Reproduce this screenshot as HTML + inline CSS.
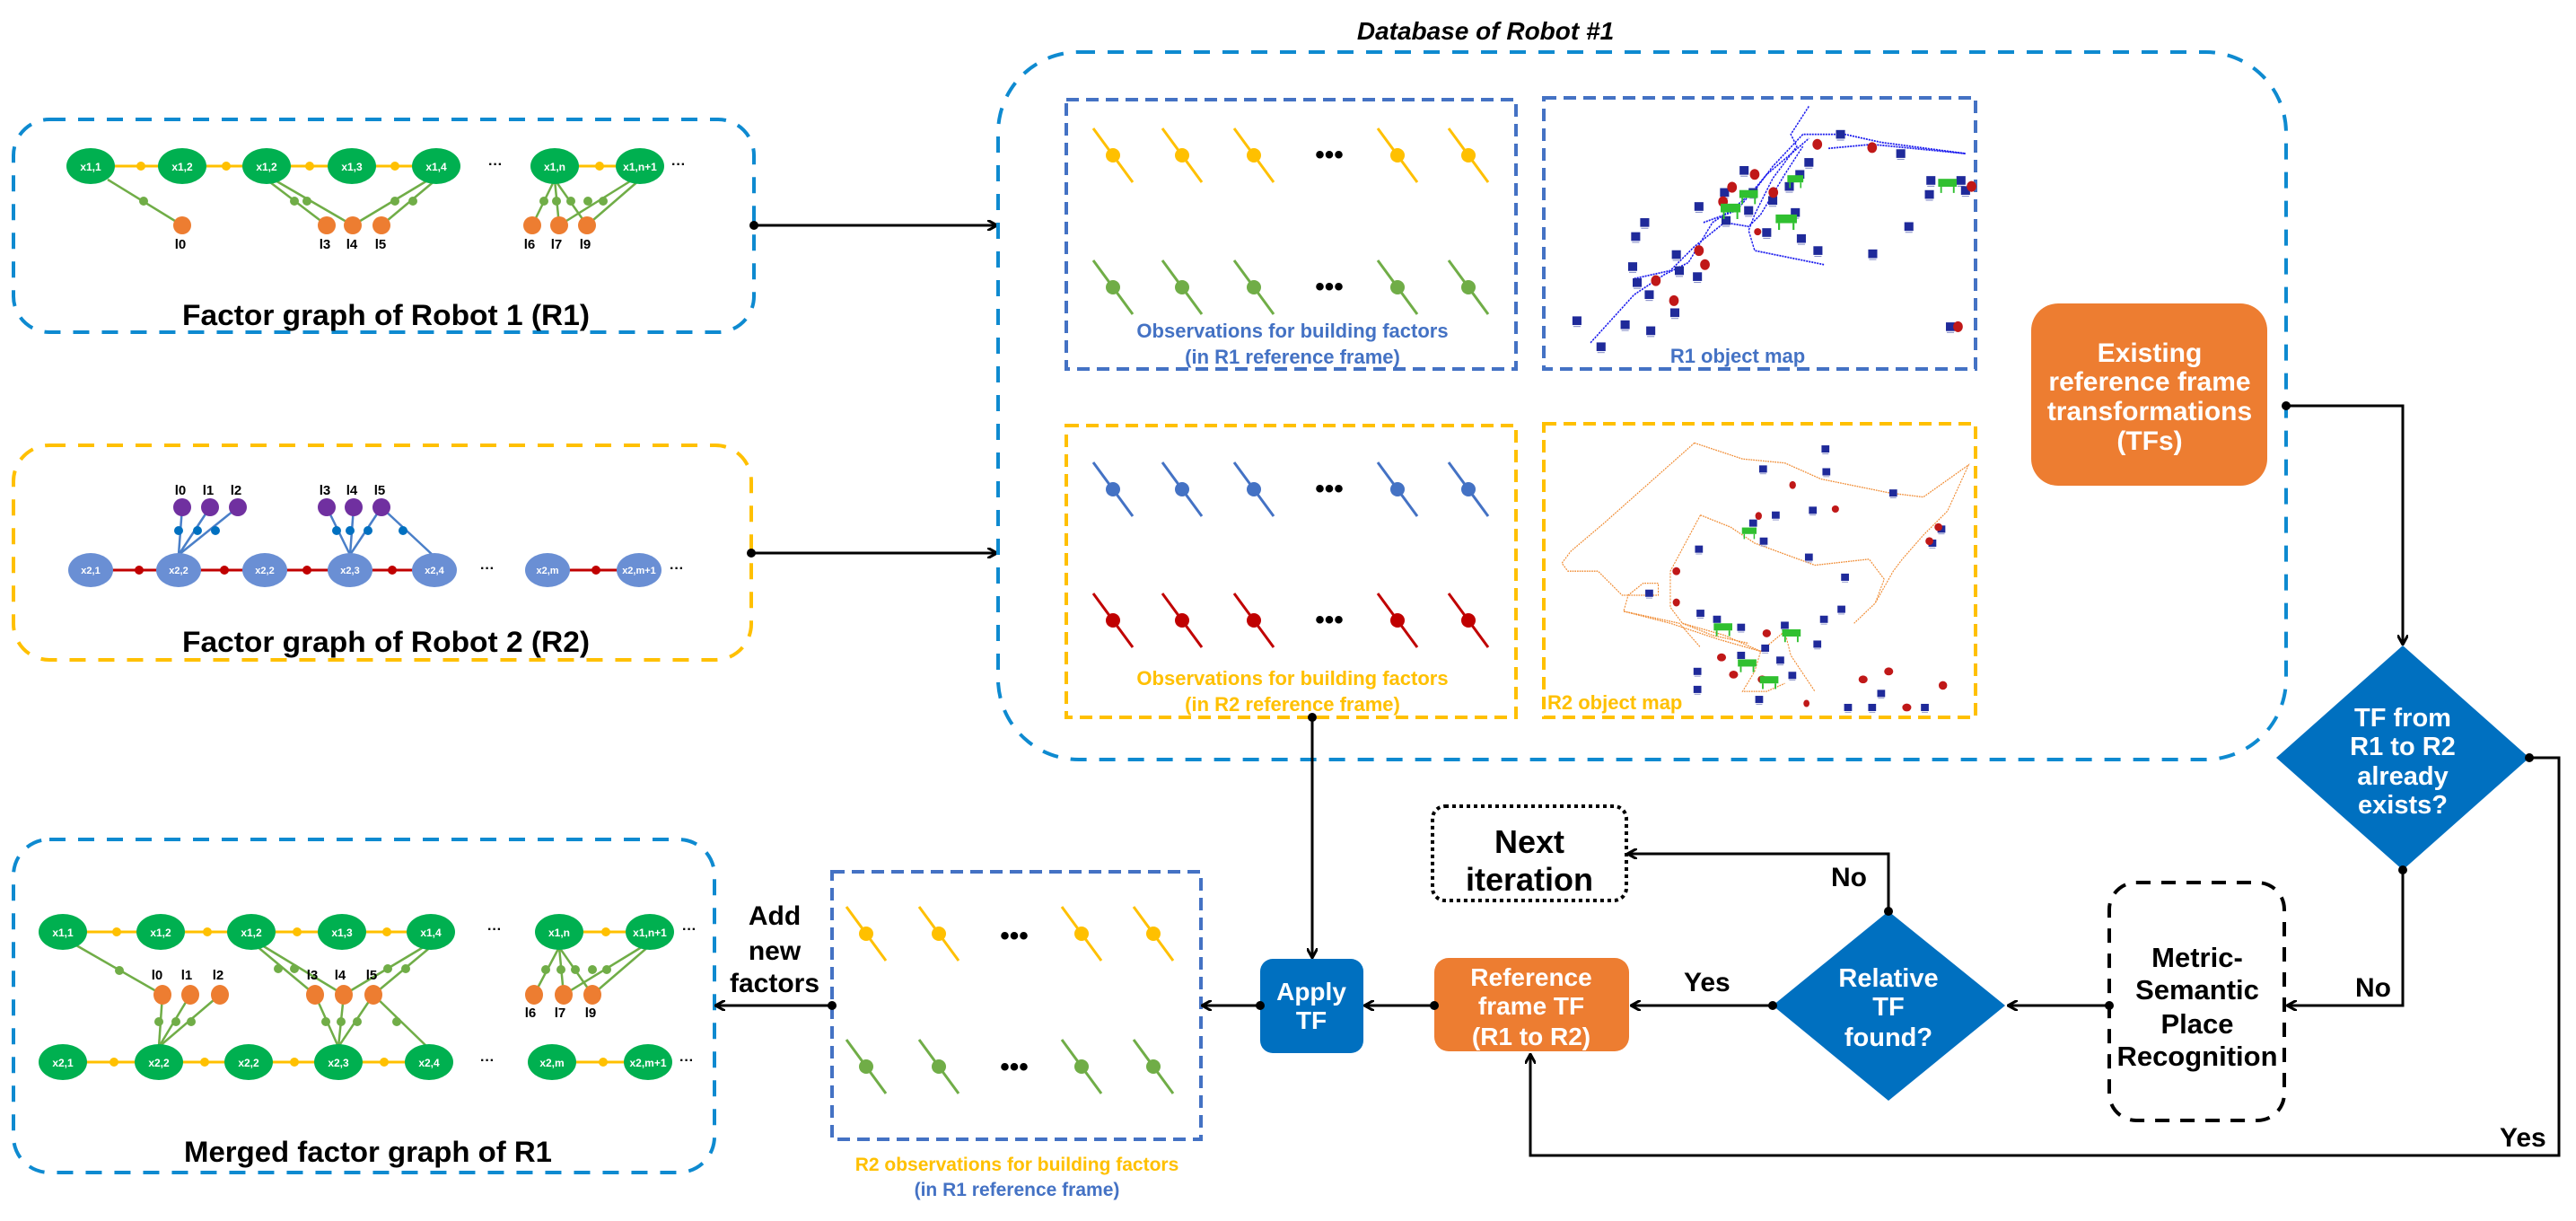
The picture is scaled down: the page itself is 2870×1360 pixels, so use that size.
<!DOCTYPE html>
<html><head><meta charset="utf-8"><style>
html,body{margin:0;padding:0;background:#fff}
svg{display:block}
text{font-family:"Liberation Sans Narrow","Liberation Sans",sans-serif;font-weight:bold}
</style></head><body>
<svg width="2870" height="1360" viewBox="0 0 2870 1360" xmlns="http://www.w3.org/2000/svg">
<defs>
<marker id="ah" markerWidth="12" markerHeight="12" refX="10" refY="6" orient="auto" markerUnits="userSpaceOnUse"><path d="M0,0 L11,6 L0,12" fill="none" stroke="#000" stroke-width="3"/></marker>
<g id="sy"><line x1="-22" y1="-30" x2="22" y2="30" stroke="#ffc000" stroke-width="3"/><circle r="8" fill="#ffc000"/></g>
<g id="sg"><line x1="-22" y1="-30" x2="22" y2="30" stroke="#70ad47" stroke-width="3"/><circle r="8" fill="#70ad47"/></g>
<g id="sb"><line x1="-22" y1="-30" x2="22" y2="30" stroke="#4472c4" stroke-width="3"/><circle r="8" fill="#4472c4"/></g>
<g id="sr"><line x1="-22" y1="-30" x2="22" y2="30" stroke="#c00000" stroke-width="3"/><circle r="8" fill="#c00000"/></g>
<g id="ch"><rect x="-10" y="-9" width="20" height="18" fill="#1f2a9a"/><line x1="-8" y1="12" x2="8" y2="12" stroke="#8890c8" stroke-width="2"/></g>
<g id="rd"><ellipse rx="10" ry="9" fill="#c01818"/></g>
<g id="tb"><rect x="-22" y="-10" width="44" height="18" fill="#30c030"/><line x1="-15" y1="8" x2="-15" y2="22" stroke="#30c030" stroke-width="4"/><line x1="15" y1="8" x2="15" y2="22" stroke="#30c030" stroke-width="4"/></g>
</defs>

<!-- ============ R1 factor graph box ============ -->
<rect x="15" y="133" width="825" height="237" rx="40" fill="none" stroke="#0e8ad0" stroke-width="4" stroke-dasharray="18 14"/>
<g stroke="#ffc000" stroke-width="3"><line x1="101" y1="185" x2="486" y2="185"/><line x1="618" y1="185" x2="713" y2="185"/></g>
<g fill="#ffc000"><circle cx="157" cy="185" r="5"/><circle cx="252" cy="185" r="5"/><circle cx="345" cy="185" r="5"/><circle cx="440" cy="185" r="5"/><circle cx="668" cy="185" r="5"/></g>
<g stroke="#70ad47" stroke-width="2.5">
<line x1="120" y1="200" x2="203" y2="251"/>
<line x1="297" y1="200" x2="364" y2="251"/><line x1="305" y1="200" x2="393" y2="251"/>
<line x1="478" y1="200" x2="393" y2="251"/><line x1="486" y1="200" x2="425" y2="251"/>
<line x1="618" y1="200" x2="593" y2="251"/><line x1="618" y1="200" x2="623" y2="251"/><line x1="618" y1="200" x2="654" y2="251"/>
<line x1="705" y1="200" x2="623" y2="251"/><line x1="713" y1="200" x2="654" y2="251"/>
</g>
<g fill="#70ad47"><circle cx="160" cy="224" r="5"/><circle cx="328" cy="224" r="5"/><circle cx="342" cy="224" r="5"/><circle cx="440" cy="224" r="5"/><circle cx="460" cy="224" r="5"/><circle cx="606" cy="224" r="5"/><circle cx="620" cy="224" r="5"/><circle cx="636" cy="224" r="5"/><circle cx="655" cy="224" r="5"/><circle cx="672" cy="224" r="5"/></g>
<g fill="#00b050"><ellipse cx="101" cy="185" rx="27" ry="20"/><ellipse cx="203" cy="185" rx="27" ry="20"/><ellipse cx="297" cy="185" rx="27" ry="20"/><ellipse cx="392" cy="185" rx="27" ry="20"/><ellipse cx="486" cy="185" rx="27" ry="20"/><ellipse cx="618" cy="185" rx="27" ry="20"/><ellipse cx="713" cy="185" rx="27" ry="20"/></g>
<g fill="#fff" font-size="12" text-anchor="middle"><text x="101" y="190">x1,1</text><text x="203" y="190">x1,2</text><text x="297" y="190">x1,2</text><text x="392" y="190">x1,3</text><text x="486" y="190">x1,4</text><text x="618" y="190">x1,n</text><text x="713" y="190">x1,n+1</text></g>
<g fill="#ed7d31"><ellipse cx="203" cy="251" rx="10" ry="10"/><ellipse cx="364" cy="251" rx="10" ry="10"/><ellipse cx="393" cy="251" rx="10" ry="10"/><ellipse cx="425" cy="251" rx="10" ry="10"/><ellipse cx="593" cy="251" rx="10" ry="10"/><ellipse cx="623" cy="251" rx="10" ry="10"/><ellipse cx="654" cy="251" rx="10" ry="10"/></g>
<g font-size="15" text-anchor="middle"><text x="201" y="277">l0</text><text x="362" y="277">l3</text><text x="392" y="277">l4</text><text x="424" y="277">l5</text><text x="590" y="277">l6</text><text x="620" y="277">l7</text><text x="652" y="277">l9</text></g>
<g font-size="16"><text x="544" y="188">···</text><text x="748" y="188">···</text></g>
<text x="430" y="362" font-size="32" text-anchor="middle" textLength="454" lengthAdjust="spacingAndGlyphs">Factor graph of Robot 1 (R1)</text>

<!-- ============ R2 factor graph box ============ -->
<rect x="15" y="496" width="822" height="239" rx="40" fill="none" stroke="#ffc000" stroke-width="4" stroke-dasharray="18 14"/>
<g stroke="#c00000" stroke-width="3"><line x1="101" y1="635" x2="484" y2="635"/><line x1="610" y1="635" x2="712" y2="635"/></g>
<g fill="#c00000"><circle cx="155" cy="635" r="5"/><circle cx="250" cy="635" r="5"/><circle cx="342" cy="635" r="5"/><circle cx="437" cy="635" r="5"/><circle cx="664" cy="635" r="5"/></g>
<g stroke="#4a7fc8" stroke-width="2.5">
<line x1="199" y1="618" x2="203" y2="565"/><line x1="199" y1="618" x2="234" y2="565"/><line x1="199" y1="618" x2="265" y2="565"/>
<line x1="390" y1="618" x2="364" y2="565"/><line x1="390" y1="618" x2="394" y2="565"/><line x1="390" y1="618" x2="425" y2="565"/>
<line x1="484" y1="620" x2="425" y2="565"/>
</g>
<g fill="#0070c0"><circle cx="199" cy="591" r="5"/><circle cx="220" cy="591" r="5"/><circle cx="240" cy="591" r="5"/><circle cx="375" cy="591" r="5"/><circle cx="390" cy="591" r="5"/><circle cx="410" cy="591" r="5"/><circle cx="449" cy="591" r="5"/></g>
<g fill="#7030a0"><ellipse cx="203" cy="565" rx="10" ry="10"/><ellipse cx="234" cy="565" rx="10" ry="10"/><ellipse cx="265" cy="565" rx="10" ry="10"/><ellipse cx="364" cy="565" rx="10" ry="10"/><ellipse cx="394" cy="565" rx="10" ry="10"/><ellipse cx="425" cy="565" rx="10" ry="10"/></g>
<g fill="#6a8fd4"><ellipse cx="101" cy="635" rx="25" ry="19"/><ellipse cx="199" cy="635" rx="25" ry="19"/><ellipse cx="295" cy="635" rx="25" ry="19"/><ellipse cx="390" cy="635" rx="25" ry="19"/><ellipse cx="484" cy="635" rx="25" ry="19"/><ellipse cx="610" cy="635" rx="25" ry="19"/><ellipse cx="712" cy="635" rx="25" ry="19"/></g>
<g fill="#fff" font-size="11" text-anchor="middle"><text x="101" y="639">x2,1</text><text x="199" y="639">x2,2</text><text x="295" y="639">x2,2</text><text x="390" y="639">x2,3</text><text x="484" y="639">x2,4</text><text x="610" y="639">x2,m</text><text x="712" y="639">x2,m+1</text></g>
<g font-size="15" text-anchor="middle"><text x="201" y="551">l0</text><text x="232" y="551">l1</text><text x="263" y="551">l2</text><text x="362" y="551">l3</text><text x="392" y="551">l4</text><text x="423" y="551">l5</text></g>
<g font-size="16"><text x="535" y="638">···</text><text x="746" y="638">···</text></g>
<text x="430" y="726" font-size="32" text-anchor="middle" textLength="454" lengthAdjust="spacingAndGlyphs">Factor graph of Robot 2 (R2)</text>

<!-- arrows to DB -->
<g stroke="#000" stroke-width="3" fill="none"><line x1="840" y1="251" x2="1110" y2="251" marker-end="url(#ah)"/><line x1="837" y1="616" x2="1110" y2="616" marker-end="url(#ah)"/></g>
<circle cx="840" cy="251" r="5"/><circle cx="837" cy="616" r="5"/>

<!-- ============ Database box ============ -->
<rect x="1112" y="58" width="1435" height="788" rx="90" fill="none" stroke="#0e8ad0" stroke-width="4" stroke-dasharray="18 14"/>
<text x="1655" y="44" font-size="28" font-style="italic" text-anchor="middle">Database of Robot #1</text>

<rect x="1188" y="111" width="501" height="300" fill="none" stroke="#4472c4" stroke-width="4" stroke-dasharray="14 8"/>
<use href="#sy" x="1240" y="173"/><use href="#sy" x="1317" y="173"/><use href="#sy" x="1397" y="173"/><use href="#sy" x="1557" y="173"/><use href="#sy" x="1636" y="173"/>
<use href="#sg" x="1240" y="320"/><use href="#sg" x="1317" y="320"/><use href="#sg" x="1397" y="320"/><use href="#sg" x="1557" y="320"/><use href="#sg" x="1636" y="320"/>
<text x="1481" y="182" font-size="30" text-anchor="middle">•••</text><text x="1481" y="329" font-size="30" text-anchor="middle">•••</text>
<g fill="#4472c4" font-size="22" text-anchor="middle"><text x="1440" y="376">Observations for building factors</text><text x="1440" y="405">(in R1 reference frame)</text></g>

<rect x="1188" y="474" width="501" height="325" fill="none" stroke="#ffc000" stroke-width="4" stroke-dasharray="14 8"/>
<use href="#sb" x="1240" y="545"/><use href="#sb" x="1317" y="545"/><use href="#sb" x="1397" y="545"/><use href="#sb" x="1557" y="545"/><use href="#sb" x="1636" y="545"/>
<use href="#sr" x="1240" y="691"/><use href="#sr" x="1317" y="691"/><use href="#sr" x="1397" y="691"/><use href="#sr" x="1557" y="691"/><use href="#sr" x="1636" y="691"/>
<text x="1481" y="554" font-size="30" text-anchor="middle">•••</text><text x="1481" y="700" font-size="30" text-anchor="middle">•••</text>
<g fill="#ffc000" font-size="22" text-anchor="middle"><text x="1440" y="763">Observations for building factors</text><text x="1440" y="792">(in R2 reference frame)</text></g>

<!-- R1 map -->
<rect x="1720" y="109" width="481" height="302" fill="none" stroke="#4472c4" stroke-width="4" stroke-dasharray="14 8"/>
<g transform="translate(1720,105) scale(0.3356,0.4464)">
<g fill="none" stroke="#1a1aee" stroke-width="4" stroke-dasharray="6 3">
<path d="M155,620 L300,500 L400,450 L480,420 L560,320 L620,290 L700,240 L760,180 L860,100 L1000,100 L1120,120 L1400,148"/>
<path d="M880,30 L820,100 L840,130 L760,210 L700,300 L680,340 L700,390 L930,425"/>
<path d="M530,320 L640,290 L740,200 L850,130 L880,110"/>
<path d="M300,460 L420,440 L500,380 L600,320 L680,330 L720,300 L760,250 L800,200 L860,130"/>
<path d="M945,135 L1090,125 L1400,148"/>
</g>
<g>
<use href="#ch" transform="translate(190,630) scale(1.5,1.2)"/><use href="#ch" transform="translate(270,575) scale(1.5,1.2)"/><use href="#ch" transform="translate(355,590) scale(1.5,1.2)"/><use href="#ch" transform="translate(110,565) scale(1.5,1.2)"/>
<use href="#ch" transform="translate(350,500) scale(1.5,1.2)"/><use href="#ch" transform="translate(310,470) scale(1.5,1.2)"/><use href="#ch" transform="translate(295,430) scale(1.5,1.2)"/><use href="#ch" transform="translate(440,400) scale(1.5,1.2)"/>
<use href="#ch" transform="translate(450,440) scale(1.5,1.2)"/><use href="#ch" transform="translate(510,455) scale(1.5,1.2)"/><use href="#ch" transform="translate(435,545) scale(1.5,1.2)"/><use href="#ch" transform="translate(305,355) scale(1.5,1.2)"/>
<use href="#ch" transform="translate(335,320) scale(1.5,1.2)"/><use href="#ch" transform="translate(515,280) scale(1.5,1.2)"/><use href="#ch" transform="translate(600,245) scale(1.5,1.2)"/><use href="#ch" transform="translate(605,315) scale(1.5,1.2)"/>
<use href="#ch" transform="translate(665,190) scale(1.5,1.2)"/><use href="#ch" transform="translate(680,290) scale(1.5,1.2)"/><use href="#ch" transform="translate(695,245) scale(1.5,1.2)"/><use href="#ch" transform="translate(760,265) scale(1.5,1.2)"/>
<use href="#ch" transform="translate(815,230) scale(1.5,1.2)"/><use href="#ch" transform="translate(850,200) scale(1.5,1.2)"/><use href="#ch" transform="translate(880,170) scale(1.5,1.2)"/><use href="#ch" transform="translate(740,345) scale(1.5,1.2)"/>
<use href="#ch" transform="translate(855,360) scale(1.5,1.2)"/><use href="#ch" transform="translate(910,390) scale(1.5,1.2)"/><use href="#ch" transform="translate(835,295) scale(1.5,1.2)"/><use href="#ch" transform="translate(985,100) scale(1.5,1.2)"/>
<use href="#ch" transform="translate(1185,148) scale(1.5,1.2)"/><use href="#ch" transform="translate(1285,215) scale(1.5,1.2)"/><use href="#ch" transform="translate(1280,250) scale(1.5,1.2)"/><use href="#ch" transform="translate(1385,215) scale(1.5,1.2)"/>
<use href="#ch" transform="translate(1400,240) scale(1.5,1.2)"/><use href="#ch" transform="translate(1212,330) scale(1.5,1.2)"/><use href="#ch" transform="translate(1092,398) scale(1.5,1.2)"/><use href="#ch" transform="translate(1350,580) scale(1.5,1.2)"/>
<use href="#rd" transform="translate(432,515) scale(1.6,1.5)"/><use href="#rd" transform="translate(372,465) scale(1.6,1.5)"/><use href="#rd" transform="translate(515,390) scale(1.6,1.5)"/><use href="#rd" transform="translate(535,425) scale(1.6,1.5)"/>
<use href="#rd" transform="translate(595,268) scale(1.6,1.5)"/><use href="#rd" transform="translate(625,232) scale(1.6,1.5)"/><use href="#rd" transform="translate(700,200) scale(1.6,1.5)"/><use href="#rd" transform="translate(762,245) scale(1.6,1.5)"/>
<use href="#rd" transform="translate(908,125) scale(1.6,1.5)"/><use href="#rd" transform="translate(1090,133) scale(1.6,1.5)"/><use href="#rd" transform="translate(1420,230) scale(1.6,1.5)"/><use href="#rd" transform="translate(1375,580) scale(1.6,1.5)"/><use href="#rd" transform="translate(710,343) scale(1.2,1)"/>
<use href="#tb" transform="translate(620,285) scale(1.5,1.2)"/><use href="#tb" transform="translate(680,250) scale(1.4,1.1)"/><use href="#tb" transform="translate(805,312) scale(1.6,1.2)"/><use href="#tb" transform="translate(835,212) scale(1.2,1)"/><use href="#tb" transform="translate(1340,222) scale(1.4,1.1)"/>
</g>
</g>
<text x="1936" y="404" fill="#4472c4" font-size="22" text-anchor="middle">R1 object map</text>

<!-- R2 map -->
<rect x="1720" y="472" width="481" height="327" fill="none" stroke="#ffc000" stroke-width="4" stroke-dasharray="14 8"/>
<g transform="translate(1720,105) scale(0.3356,0.4464)">
<g fill="none" stroke="#f08a30" stroke-width="3" stroke-dasharray="5 3">
<path d="M500,870 L320,990 L200,1070 L90,1140 L60,1170 L80,1190 L180,1190 L260,1250 L380,1250 L380,1220 L330,1220 L280,1250 L265,1290 L420,1320 L580,1360 L720,1390 L800,1340 L820,1400 L900,1490"/>
<path d="M500,870 L660,910 L800,920 L920,960 L1150,995 L1260,1005 L1410,925 L1340,1040 L1260,1100 L1190,1160 L1160,1190 L1100,1270 L1030,1320"/>
<path d="M520,1050 L470,1120 L420,1190 L420,1280 L460,1320 L560,1350 L680,1370"/>
<path d="M520,1050 L620,1080 L700,1120 L900,1175 L1080,1160 L1130,1210 L1100,1270"/>
<path d="M460,1320 L600,1350 L720,1390 L700,1440 L660,1490 L740,1490 L800,1470"/>
<path d="M265,1290 L450,1320 L520,1380"/>
</g>
<g>
<use href="#ch" transform="translate(935,885) scale(1.3,1)"/><use href="#ch" transform="translate(728,935) scale(1.3,1)"/><use href="#ch" transform="translate(938,942) scale(1.3,1)"/><use href="#ch" transform="translate(1160,995) scale(1.3,1)"/>
<use href="#ch" transform="translate(770,1050) scale(1.3,1)"/><use href="#ch" transform="translate(893,1038) scale(1.3,1)"/><use href="#ch" transform="translate(695,1070) scale(1.3,1)"/><use href="#ch" transform="translate(730,1115) scale(1.3,1)"/>
<use href="#ch" transform="translate(515,1135) scale(1.3,1)"/><use href="#ch" transform="translate(880,1155) scale(1.3,1)"/><use href="#ch" transform="translate(1000,1205) scale(1.3,1)"/><use href="#ch" transform="translate(1320,1085) scale(1.3,1)"/>
<use href="#ch" transform="translate(1290,1120) scale(1.3,1)"/><use href="#ch" transform="translate(350,1245) scale(1.3,1)"/><use href="#ch" transform="translate(520,1295) scale(1.3,1)"/><use href="#ch" transform="translate(575,1310) scale(1.3,1)"/>
<use href="#ch" transform="translate(655,1330) scale(1.3,1)"/><use href="#ch" transform="translate(800,1325) scale(1.3,1)"/><use href="#ch" transform="translate(930,1310) scale(1.3,1)"/><use href="#ch" transform="translate(988,1285) scale(1.3,1)"/>
<use href="#ch" transform="translate(908,1372) scale(1.3,1)"/><use href="#ch" transform="translate(735,1382) scale(1.3,1)"/><use href="#ch" transform="translate(785,1412) scale(1.3,1)"/><use href="#ch" transform="translate(825,1450) scale(1.3,1)"/>
<use href="#ch" transform="translate(510,1440) scale(1.3,1)"/><use href="#ch" transform="translate(510,1485) scale(1.3,1)"/><use href="#ch" transform="translate(715,1510) scale(1.3,1)"/><use href="#ch" transform="translate(1010,1530) scale(1.3,1)"/>
<use href="#ch" transform="translate(1090,1530) scale(1.3,1)"/><use href="#ch" transform="translate(1120,1495) scale(1.3,1)"/><use href="#ch" transform="translate(1265,1530) scale(1.3,1)"/><use href="#ch" transform="translate(655,1400) scale(1.3,1)"/>
<use href="#rd" transform="translate(826,975) scale(1.1,1.1)"/><use href="#rd" transform="translate(968,1035) scale(1.2,1)"/><use href="#rd" transform="translate(713,1052) scale(1.1,1.1)"/><use href="#rd" transform="translate(1310,1080) scale(1.3,1.1)"/>
<use href="#rd" transform="translate(1280,1115) scale(1.3,1.1)"/><use href="#rd" transform="translate(440,1190) scale(1.3,1.1)"/><use href="#rd" transform="translate(440,1268) scale(1.2,1.1)"/><use href="#rd" transform="translate(740,1345) scale(1.4,1.1)"/>
<use href="#rd" transform="translate(590,1405) scale(1.5,1.1)"/><use href="#rd" transform="translate(630,1448) scale(1.5,1.1)"/><use href="#rd" transform="translate(725,1460) scale(1.5,1.1)"/><use href="#rd" transform="translate(1060,1460) scale(1.5,1.1)"/>
<use href="#rd" transform="translate(1145,1440) scale(1.5,1.1)"/><use href="#rd" transform="translate(1325,1475) scale(1.4,1.2)"/><use href="#rd" transform="translate(1205,1530) scale(1.5,1.1)"/><use href="#rd" transform="translate(872,1520) scale(1,1)"/>
<use href="#tb" transform="translate(682,1090) scale(1.1,0.9)"/><use href="#tb" transform="translate(595,1330) scale(1.4,1)"/><use href="#tb" transform="translate(822,1345) scale(1.4,1)"/><use href="#tb" transform="translate(675,1420) scale(1.4,1)"/><use href="#tb" transform="translate(748,1462) scale(1.4,1)"/>
</g>
</g>
<text x="1724" y="790" fill="#ffc000" font-size="22">R2 object map</text>

<!-- Existing TFs -->
<rect x="2263" y="338" width="263" height="203" rx="30" fill="#ed7d31"/>
<g fill="#fff" font-size="30" text-anchor="middle"><text x="2395" y="403">Existing</text><text x="2395" y="435">reference frame</text><text x="2395" y="468">transformations</text><text x="2395" y="501">(TFs)</text></g>

<!-- Diamond TF exists -->
<polygon points="2677,719 2818,844 2677,969 2536,844" fill="#0070c0"/>
<g fill="#fff" font-size="29" text-anchor="middle"><text x="2677" y="809">TF from</text><text x="2677" y="841">R1 to R2</text><text x="2677" y="874">already</text><text x="2677" y="906">exists?</text></g>

<!-- MSPR -->
<rect x="2350" y="983" width="195" height="265" rx="30" fill="none" stroke="#000" stroke-width="4" stroke-dasharray="16 12"/>
<g font-size="31" text-anchor="middle"><text x="2448" y="1077">Metric-</text><text x="2448" y="1113">Semantic</text><text x="2448" y="1151">Place</text><text x="2448" y="1187">Recognition</text></g>

<!-- Relative TF diamond -->
<polygon points="2104,1015 2234,1120 2104,1226 1975,1120" fill="#0070c0"/>
<g fill="#fff" font-size="29" text-anchor="middle"><text x="2104" y="1099">Relative</text><text x="2104" y="1131">TF</text><text x="2104" y="1165">found?</text></g>

<!-- Next iteration -->
<rect x="1596" y="898" width="216" height="105" rx="14" fill="none" stroke="#000" stroke-width="4" stroke-dasharray="4 4"/>
<g font-size="36" text-anchor="middle"><text x="1704" y="950">Next</text><text x="1704" y="992">iteration</text></g>

<!-- Reference frame TF -->
<rect x="1598" y="1067" width="217" height="104" rx="16" fill="#ed7d31"/>
<g fill="#fff" font-size="28" text-anchor="middle"><text x="1706" y="1098">Reference</text><text x="1706" y="1130">frame TF</text><text x="1706" y="1164">(R1 to R2)</text></g>

<!-- Apply TF -->
<rect x="1404" y="1068" width="115" height="105" rx="14" fill="#0070c0"/>
<g fill="#fff" font-size="28" text-anchor="middle"><text x="1461" y="1114">Apply</text><text x="1461" y="1146">TF</text></g>

<!-- Merged obs box -->
<rect x="927" y="971" width="411" height="298" fill="none" stroke="#4472c4" stroke-width="4" stroke-dasharray="14 8"/>
<use href="#sy" x="965" y="1040"/><use href="#sy" x="1046" y="1040"/><use href="#sy" x="1205" y="1040"/><use href="#sy" x="1285" y="1040"/>
<use href="#sg" x="965" y="1188"/><use href="#sg" x="1046" y="1188"/><use href="#sg" x="1205" y="1188"/><use href="#sg" x="1285" y="1188"/>
<text x="1130" y="1052" font-size="30" text-anchor="middle">•••</text><text x="1130" y="1198" font-size="30" text-anchor="middle">•••</text>
<text x="1133" y="1304" fill="#ffc000" font-size="21" text-anchor="middle">R2 observations for building factors</text>
<text x="1133" y="1332" fill="#4472c4" font-size="21" text-anchor="middle">(in R1 reference frame)</text>

<!-- Add new factors -->
<g font-size="30" text-anchor="middle"><text x="863" y="1030">Add</text><text x="863" y="1069">new</text><text x="863" y="1105">factors</text></g>

<!-- Merged factor graph -->
<rect x="15" y="935" width="781" height="371" rx="40" fill="none" stroke="#0e8ad0" stroke-width="4" stroke-dasharray="18 14"/>
<g stroke="#ffc000" stroke-width="3"><line x1="70" y1="1038" x2="480" y2="1038"/><line x1="623" y1="1038" x2="724" y2="1038"/><line x1="70" y1="1183" x2="478" y2="1183"/><line x1="615" y1="1183" x2="722" y2="1183"/></g>
<g fill="#ffc000"><circle cx="130" cy="1038" r="5"/><circle cx="231" cy="1038" r="5"/><circle cx="331" cy="1038" r="5"/><circle cx="431" cy="1038" r="5"/><circle cx="675" cy="1038" r="5"/><circle cx="127" cy="1183" r="5"/><circle cx="228" cy="1183" r="5"/><circle cx="328" cy="1183" r="5"/><circle cx="428" cy="1183" r="5"/><circle cx="672" cy="1183" r="5"/></g>
<g stroke="#70ad47" stroke-width="2.5">
<line x1="85" y1="1053" x2="181" y2="1108"/>
<line x1="285" y1="1053" x2="351" y2="1108"/><line x1="292" y1="1053" x2="383" y2="1108"/>
<line x1="475" y1="1053" x2="383" y2="1108"/><line x1="482" y1="1053" x2="416" y2="1108"/>
<line x1="177" y1="1166" x2="181" y2="1108"/><line x1="177" y1="1166" x2="212" y2="1108"/><line x1="177" y1="1166" x2="245" y2="1108"/>
<line x1="377" y1="1166" x2="351" y2="1108"/><line x1="377" y1="1166" x2="383" y2="1108"/><line x1="377" y1="1166" x2="416" y2="1108"/>
<line x1="478" y1="1168" x2="416" y2="1108"/>
<line x1="623" y1="1055" x2="595" y2="1108"/><line x1="623" y1="1055" x2="628" y2="1108"/><line x1="623" y1="1055" x2="660" y2="1108"/>
<line x1="718" y1="1053" x2="628" y2="1108"/><line x1="724" y1="1053" x2="660" y2="1108"/>
</g>
<g fill="#70ad47"><circle cx="133" cy="1081" r="5"/><circle cx="310" cy="1079" r="5"/><circle cx="328" cy="1079" r="5"/><circle cx="432" cy="1079" r="5"/><circle cx="452" cy="1079" r="5"/>
<circle cx="177" cy="1138" r="5"/><circle cx="196" cy="1138" r="5"/><circle cx="213" cy="1138" r="5"/><circle cx="363" cy="1138" r="5"/><circle cx="380" cy="1138" r="5"/><circle cx="398" cy="1138" r="5"/><circle cx="442" cy="1138" r="5"/>
<circle cx="608" cy="1080" r="5"/><circle cx="625" cy="1080" r="5"/><circle cx="641" cy="1080" r="5"/><circle cx="660" cy="1080" r="5"/><circle cx="676" cy="1080" r="5"/></g>
<g fill="#00b050"><ellipse cx="70" cy="1038" rx="27" ry="20"/><ellipse cx="179" cy="1038" rx="27" ry="20"/><ellipse cx="280" cy="1038" rx="27" ry="20"/><ellipse cx="381" cy="1038" rx="27" ry="20"/><ellipse cx="480" cy="1038" rx="27" ry="20"/><ellipse cx="623" cy="1038" rx="27" ry="20"/><ellipse cx="724" cy="1038" rx="27" ry="20"/>
<ellipse cx="70" cy="1183" rx="27" ry="20"/><ellipse cx="177" cy="1183" rx="27" ry="20"/><ellipse cx="277" cy="1183" rx="27" ry="20"/><ellipse cx="377" cy="1183" rx="27" ry="20"/><ellipse cx="478" cy="1183" rx="27" ry="20"/><ellipse cx="615" cy="1183" rx="27" ry="20"/><ellipse cx="722" cy="1183" rx="27" ry="20"/></g>
<g fill="#fff" font-size="12" text-anchor="middle"><text x="70" y="1043">x1,1</text><text x="179" y="1043">x1,2</text><text x="280" y="1043">x1,2</text><text x="381" y="1043">x1,3</text><text x="480" y="1043">x1,4</text><text x="623" y="1043">x1,n</text><text x="724" y="1043">x1,n+1</text>
<text x="70" y="1188">x2,1</text><text x="177" y="1188">x2,2</text><text x="277" y="1188">x2,2</text><text x="377" y="1188">x2,3</text><text x="478" y="1188">x2,4</text><text x="615" y="1188">x2,m</text><text x="722" y="1188">x2,m+1</text></g>
<g fill="#ed7d31"><ellipse cx="181" cy="1108" rx="10" ry="11"/><ellipse cx="212" cy="1108" rx="10" ry="11"/><ellipse cx="245" cy="1108" rx="10" ry="11"/><ellipse cx="351" cy="1108" rx="10" ry="11"/><ellipse cx="383" cy="1108" rx="10" ry="11"/><ellipse cx="416" cy="1108" rx="10" ry="11"/><ellipse cx="595" cy="1108" rx="10" ry="11"/><ellipse cx="628" cy="1108" rx="10" ry="11"/><ellipse cx="660" cy="1108" rx="10" ry="11"/></g>
<g font-size="15" text-anchor="middle"><text x="175" y="1091">l0</text><text x="208" y="1091">l1</text><text x="243" y="1091">l2</text><text x="348" y="1091">l3</text><text x="379" y="1091">l4</text><text x="414" y="1091">l5</text><text x="591" y="1133">l6</text><text x="624" y="1133">l7</text><text x="658" y="1133">l9</text></g>
<g font-size="16"><text x="543" y="1040">···</text><text x="760" y="1040">···</text><text x="535" y="1186">···</text><text x="757" y="1186">···</text></g>
<text x="410" y="1294" font-size="32" text-anchor="middle" textLength="410" lengthAdjust="spacingAndGlyphs">Merged factor graph of R1</text>

<!-- ============ connectors ============ -->
<g stroke="#000" stroke-width="3" fill="none">
<polyline points="2547,452 2677,452 2677,717" marker-end="url(#ah)"/>
<polyline points="2818,844 2851,844 2851,1287 1705,1287 1705,1175" marker-end="url(#ah)"/>
<polyline points="2677,969 2677,1120 2549,1120" marker-end="url(#ah)"/>
<line x1="2350" y1="1120" x2="2238" y2="1120" marker-end="url(#ah)"/>
<polyline points="2104,1015 2104,951 1814,951" marker-end="url(#ah)"/>
<line x1="1975" y1="1120" x2="1818" y2="1120" marker-end="url(#ah)"/>
<line x1="1598" y1="1120" x2="1521" y2="1120" marker-end="url(#ah)"/>
<line x1="1462" y1="799" x2="1462" y2="1066" marker-end="url(#ah)"/>
<line x1="1404" y1="1120" x2="1340" y2="1120" marker-end="url(#ah)"/>
<line x1="927" y1="1120" x2="798" y2="1120" marker-end="url(#ah)"/>
</g>
<g><circle cx="2547" cy="452" r="5"/><circle cx="2818" cy="844" r="5"/><circle cx="2677" cy="969" r="5"/><circle cx="2350" cy="1120" r="5"/><circle cx="2104" cy="1015" r="5"/><circle cx="1975" cy="1120" r="5"/><circle cx="1598" cy="1120" r="5"/><circle cx="1462" cy="799" r="5"/><circle cx="1404" cy="1120" r="5"/><circle cx="927" cy="1120" r="5"/></g>
<g font-size="30"><text x="2040" y="987">No</text><text x="1876" y="1104">Yes</text><text x="2624" y="1110">No</text><text x="2785" y="1277">Yes</text></g>
</svg>
</body></html>
